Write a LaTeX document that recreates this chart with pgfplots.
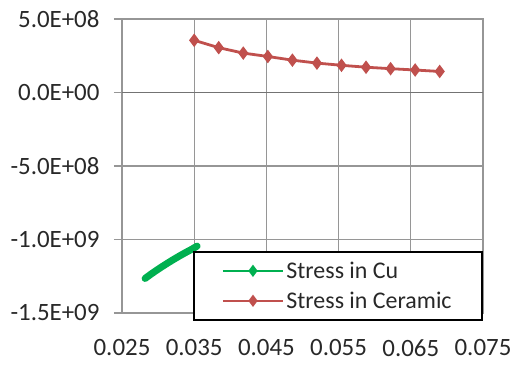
\documentclass[border=0pt]{standalone}
\usepackage{fontspec}
\setmainfont{Carlito}
\usepackage{pgfplots}
\pgfplotsset{compat=1.18}
\definecolor{cugreen}{RGB}{0,176,80}
\definecolor{cerred}{RGB}{192,80,77}
\definecolor{gridgray}{RGB}{150,150,150}
\definecolor{txt}{RGB}{40,40,40}
\begin{document}
\begin{tikzpicture}
\path[use as bounding box] (-122bp,-54bp) rectangle (389bp,313bp);
\begin{axis}[
  at={(0,0)}, anchor=south west,
  width=361bp, height=294bp, scale only axis,
  xmin=0.025, xmax=0.075, ymin=-1.5e9, ymax=5e8,
  xtick={0.025,0.035,0.045,0.055,0.065,0.075},
  xticklabels={0.025,0.035,0.045,0.055,0.065,0.075},
  ytick={-1.5e9,-1e9,-5e8,0,5e8},
  yticklabels={-1.5E+09,-1.0E+09,-5.0E+08,0.0E+00,5.0E+08},
  scaled ticks=false,
  grid=major,
  major grid style={gridgray, line width=1.2bp},
  axis line style={gridgray, line width=1.2bp},
  tick style={gridgray, line width=1.2bp},
  xtick style={draw=none},
  ytick pos=left, tick align=outside, major tick length=8bp,
  ticklabel style={font=\fontsize{25}{28}\selectfont, text=txt},
  yticklabel style={xshift=-11bp},
  xticklabel style={yshift=-15bp},
  legend style={at={(rel axis cs:1,0.211)}, anchor=north east, draw=black,
    line width=1.8bp, font=\fontsize{24}{27}\selectfont, text=txt,
    inner xsep=28bp, inner ysep=10bp, row sep=12bp,
    nodes={inner xsep=2.5bp, inner ysep=0bp}},
  legend cell align=left,
  legend image code/.code={\draw[#1, line width=2bp, mark repeat=2, mark phase=2] plot coordinates {(0bp,0bp) (30bp,0bp) (60bp,0bp)};},
]
\draw[black!55, line width=1.5bp] (axis cs:0.025,0) -- (axis cs:0.075,0);
\addplot[cugreen, line width=7bp, line cap=round, forget plot] coordinates {
(0.0282,-1.265e9) (0.0290,-1.236e9) (0.0298,-1.209e9) (0.0306,-1.183e9)
(0.0314,-1.158e9) (0.0322,-1.134e9) (0.0330,-1.111e9) (0.0338,-1.089e9)
(0.0346,-1.068e9) (0.0354,-1.045e9)};
\addplot[cerred, line width=2.8bp, mark=diamond*, mark size=4.5bp, forget plot] coordinates {
(0.0350,3.55e8) (0.0384,3.05e8) (0.0418,2.68e8) (0.0452,2.45e8)
(0.0486,2.20e8) (0.0520,2.00e8) (0.0554,1.85e8) (0.0588,1.72e8)
(0.0622,1.62e8) (0.0656,1.53e8) (0.0690,1.43e8)};
\addlegendimage{cugreen, mark=diamond*, mark size=4.5bp}
\addlegendentry{Stress in Cu}
\addlegendimage{cerred, mark=diamond*, mark size=4.5bp}
\addlegendentry{Stress in Ceramic}
\end{axis}
\end{tikzpicture}
\end{document}
